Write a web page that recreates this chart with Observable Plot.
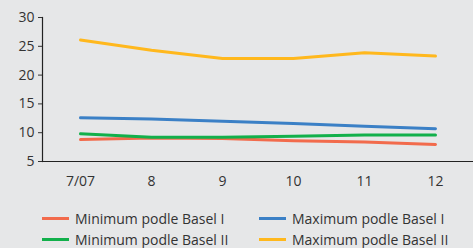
<!DOCTYPE html>
<html><head><meta charset="utf-8">
<script src="https://cdn.jsdelivr.net/npm/d3@7"></script>
<script src="https://cdn.jsdelivr.net/npm/@observablehq/plot@0.6"></script>
<style>
body{margin:0;background:#e6e7e8;font-family:"Open Sans",sans-serif;}
#wrap{width:473px;height:248px;position:relative;overflow:hidden;}
#legend{position:absolute;left:42px;top:208px;display:grid;grid-template-columns:217px 200px;row-gap:1.5px;font-size:14px;color:#333;}
.item{display:flex;align-items:center;height:20px;}
.sw{width:27px;height:3px;margin-right:6px;}
</style></head>
<body><div id="wrap"><div id="chart"></div><div id="legend"></div></div>
<script>
const periods = ["7/07","8","9","10","11","12"];
const seriesNames = ["Minimum podle Basel I","Maximum podle Basel I","Minimum podle Basel II","Maximum podle Basel II"];
const minBasel1 = [8.8, 9.1, 9.0, 8.6, 8.4, 7.95];
const maxBasel1 = [12.6, 12.4, 12.0, 11.6, 11.1, 10.7];
const minBasel2 = [9.8, 9.2, 9.2, 9.4, 9.6, 9.6];
const maxBasel2 = [26.1, 24.3, 22.9, 22.9, 23.9, 23.3];
const colors = ["#f26b4c","#3b80c6","#12b04b","#ffb81d"];
const yTicks = [5,10,15,20,25,30];

const all = [minBasel1,maxBasel1,minBasel2,maxBasel2];
const data = [];
all.forEach((arr,si)=>arr.forEach((v,i)=>data.push({period:periods[i],value:v,series:seriesNames[si]})));

const chart = Plot.plot({
  width:473,height:200,
  marginTop:17,marginBottom:39,marginLeft:42,marginRight:0,
  style:{background:"#e6e7e8",fontFamily:"Open Sans, sans-serif",fontSize:"14px",color:"#333"},
  x:{type:"point",domain:periods,padding:0.5,label:null},
  y:{domain:[5,30],label:null},
  color:{domain:seriesNames,range:colors},
  marks:[
    Plot.axisX({tickSize:0,tickPadding:15,fontSize:14,label:null}),
    Plot.axisY({ticks:yTicks,tickSize:4,tickPadding:4,fontSize:14,label:null}),
    Plot.frame({anchor:"left",stroke:"#222",strokeWidth:1.2}),
    Plot.ruleY([5],{stroke:"#222",strokeWidth:1.2}),
    Plot.line(data,{x:"period",y:"value",z:"series",stroke:"series",strokeWidth:3})
  ]
});
document.getElementById("chart").appendChild(chart);

const lg = document.getElementById("legend");
[0,1,2,3].forEach(i=>{
  const d=document.createElement("div");d.className="item";
  d.innerHTML=`<span class="sw" style="background:${colors[i]}"></span><span>${seriesNames[i]}</span>`;
  lg.appendChild(d);
});
</script></body></html>
